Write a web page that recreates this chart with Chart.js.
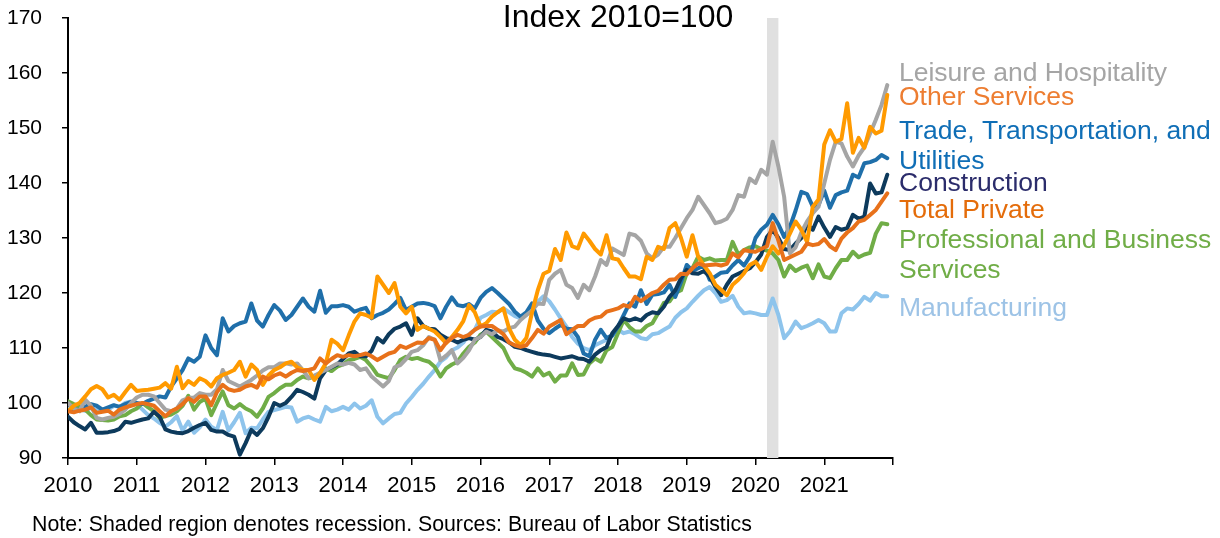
<!DOCTYPE html>
<html>
<head>
<meta charset="utf-8">
<script src="https://cdn.jsdelivr.net/npm/chart.js@4.4.0/dist/chart.umd.min.js"></script>
<style>
  html, body { margin: 0; padding: 0; background: #fff; }
  #wrap { position: relative; width: 1220px; height: 538px; }
  #note {
    position: absolute; left: 32px; top: 512px;
    font: 21.3px "Liberation Sans", Arial, sans-serif; color: #000; white-space: nowrap;
  }
</style>
</head>
<body>
<div id="wrap">
  <canvas id="chart" width="1220" height="538"></canvas>
  <div id="note">Note: Shaded region denotes recession. Sources: Bureau of Labor Statistics</div>
</div>
<script>
// monthly index values, Jan 2010 .. Dec 2021 (one row per year)
const yearLabels = ["2010", "2011", "2012", "2013", "2014", "2015", "2016", "2017", "2018", "2019", "2020", "2021"];
const months = Array.from({ length: 144 }, (_, i) => 2010 + i / 12);
const recession = [2020.167, 2020.333];

const leisure = [
  100.0, 99.0, 98.5, 100.6, 99.5, 97.3, 97.0, 97.3, 97.5, 98.0, 98.8, 100.0,
  101.0, 101.5, 101.5, 101.2, 100.0, 98.8, 98.5, 99.0, 100.5, 100.9, 101.0, 101.8,
  101.5, 101.5, 102.5, 106.0, 104.0, 103.5, 103.0, 103.6, 104.2, 105.0, 105.9, 106.5,
  106.5, 107.2, 107.2, 107.0, 107.2, 106.0, 104.5, 105.0, 105.5, 106.0, 106.6, 107.2,
  107.0, 107.3, 107.0, 106.0, 106.3, 104.8, 103.9, 103.0, 104.0, 106.5, 106.9, 108.0,
  109.3, 109.6, 110.5, 112.0, 111.5, 107.8, 108.6, 109.6, 107.2, 108.2, 109.6, 111.5,
  112.0, 113.0, 112.5, 113.2, 113.0, 113.6, 113.9, 115.1, 116.0, 116.8, 118.1, 118.0,
  122.4, 123.5, 124.2, 121.5, 120.9, 119.1, 121.5, 120.5, 123.0, 126.0, 125.1, 128.1,
  127.5, 126.9, 130.8, 130.5, 129.5, 127.2, 126.3, 127.0, 128.4, 128.4, 130.0, 131.8,
  133.6, 135.1, 137.5, 136.0, 134.5, 132.7, 133.0, 133.5, 135.1, 137.8, 137.5, 140.8,
  140.0, 142.4, 141.5, 147.5, 143.0, 137.5, 127.2, 128.3, 131.0, 133.0, 134.5, 135.7,
  139.9, 144.2, 147.5, 147.2, 144.8, 143.0, 145.0, 146.5, 149.0, 151.5, 154.2, 157.8
];

const otherServices = [
  98.5, 99.5, 100.0, 101.2, 102.5, 103.1, 102.5, 101.0, 101.5, 100.6, 102.0, 103.3,
  102.2, 102.3, 102.4, 102.6, 102.8, 103.6, 102.6, 106.6, 102.7, 104.0, 103.3, 104.5,
  104.0, 103.0, 104.5, 105.1, 105.5, 106.0, 107.5, 104.8, 107.0, 106.0, 103.3, 105.0,
  106.0, 106.5, 107.2, 107.5, 106.5, 106.0, 106.0, 104.2, 105.5, 107.2, 111.5, 110.8,
  109.6, 112.3, 114.8, 116.3, 116.0, 115.5, 123.0, 121.5, 120.0, 121.8, 117.5, 116.3,
  117.5, 113.3, 114.0, 113.5, 113.0, 112.0, 110.9, 112.0, 113.3, 114.9, 117.8, 116.5,
  113.9, 114.5, 115.7, 116.5, 117.2, 113.5, 111.5, 110.5, 111.8, 116.5, 120.5, 123.5,
  124.0, 128.0, 126.0, 131.0, 128.5, 128.1, 130.8, 129.5, 128.0, 127.0, 130.5, 126.3,
  126.1, 124.5, 123.0, 123.0, 122.5, 126.6, 126.0, 128.4, 128.0, 131.8, 132.7, 130.0,
  126.6, 130.5, 126.6, 125.0, 123.6, 121.5, 120.6, 119.6, 121.5, 122.4, 123.6, 125.1,
  125.7, 124.2, 126.6, 128.5, 127.2, 128.7, 130.8, 133.0, 131.5, 129.3, 135.7, 137.0,
  147.0, 149.6, 147.5, 148.0, 154.5, 145.5, 148.2, 146.4, 150.2, 149.0, 149.5, 156.0
];

const trade = [
  98.5, 99.0, 98.6, 99.3, 99.8, 99.5, 98.8, 99.2, 99.6, 99.3, 99.8, 100.2,
  100.0, 99.8, 100.4, 100.8, 101.2, 101.0, 103.0, 104.5, 106.0, 108.1, 107.5, 108.4,
  112.3, 110.0, 108.7, 115.4, 113.0, 114.0, 114.5, 114.8, 118.1, 115.0, 113.9, 116.0,
  117.8, 116.8, 115.1, 116.0, 117.5, 119.0, 117.5, 116.6, 120.4, 116.4, 117.6, 117.6,
  117.8, 117.5, 116.6, 117.0, 117.3, 115.4, 116.0, 116.4, 117.0, 118.0, 119.1, 116.9,
  117.5, 118.1, 118.2, 118.0, 117.6, 115.4, 117.5, 119.2, 117.8, 117.6, 118.0, 117.2,
  119.1, 120.2, 120.9, 120.0, 119.0, 118.0, 116.6, 115.7, 116.5, 118.1, 115.0, 113.5,
  112.7, 113.5, 114.2, 113.5, 113.4, 112.0, 109.0, 108.5, 111.5, 113.3, 111.8, 112.3,
  113.9, 116.0, 118.1, 117.5, 120.5, 118.0, 119.7, 119.8, 120.1, 121.5, 119.3, 122.0,
  125.1, 124.0, 124.5, 125.0, 122.4, 123.0, 123.7, 123.8, 125.0, 126.0, 125.0, 126.6,
  130.0, 131.5, 132.4, 134.2, 132.5, 130.2, 132.0, 135.0, 138.4, 138.0, 135.7, 136.0,
  138.6, 135.5, 137.8, 138.3, 138.6, 141.5, 141.0, 143.6, 143.8, 144.2, 145.1, 144.5
];

const construction = [
  97.5, 96.5, 95.8, 95.2, 96.4, 94.6, 94.6, 94.7, 94.9, 95.3, 96.6, 96.4,
  96.7, 97.0, 97.2, 98.4, 97.5, 95.2, 94.8, 94.6, 94.5, 94.9, 95.5, 96.0,
  96.4, 95.1, 94.8, 94.8, 94.2, 93.9, 90.6, 92.7, 95.1, 94.2, 95.4, 97.5,
  100.0, 99.5, 100.0, 101.1, 102.4, 102.0, 101.5, 100.8, 104.5, 106.0, 106.5, 107.0,
  108.0, 109.0, 109.3, 108.5, 108.5, 109.5, 111.8, 111.0, 112.5, 113.5, 113.9, 114.5,
  112.4, 115.4, 114.0, 113.5, 113.4, 112.4, 111.8, 111.5, 111.0, 111.5, 111.8, 111.5,
  112.0, 113.3, 113.0, 112.0, 111.6, 111.0, 110.2, 110.0, 109.6, 109.3, 109.0, 108.8,
  108.7, 108.4, 108.1, 108.3, 108.5, 108.1, 108.0, 107.5, 108.8, 109.6, 110.2, 112.7,
  114.0, 115.4, 115.0, 115.4, 115.0, 116.0, 116.5, 116.3, 117.5, 119.3, 120.5, 122.7,
  124.2, 123.6, 123.5, 124.0, 123.0, 121.1, 119.6, 121.5, 123.0, 123.5, 124.0, 124.5,
  125.6, 127.0, 130.2, 131.5, 130.0, 128.0, 127.8, 129.0, 130.0, 132.5, 131.5, 133.9,
  131.9, 130.2, 132.0, 131.5, 131.8, 134.2, 133.5, 133.9, 139.9, 138.1, 138.3, 141.5
];

const totalPrivate = [
  98.5, 98.3, 98.6, 98.8, 99.2, 98.2, 98.4, 98.6, 97.9, 98.8, 99.2, 99.5,
  99.8, 100.0, 99.8, 99.5, 98.5, 97.6, 98.5, 99.0, 99.8, 100.9, 100.2, 101.2,
  101.2, 99.6, 102.0, 103.3, 102.5, 102.2, 102.4, 103.0, 103.3, 102.8, 104.8, 104.3,
  105.0, 105.4, 104.8, 105.5, 106.0, 105.8, 106.0, 106.3, 108.1, 107.2, 108.0, 108.7,
  108.4, 108.7, 108.5, 108.7, 109.0, 108.5, 107.8, 108.4, 109.0, 109.3, 110.4, 110.0,
  110.5, 111.0, 110.9, 111.8, 111.5, 109.6, 111.0, 111.8, 112.4, 112.0, 112.4, 113.3,
  113.9, 114.0, 114.0, 113.3, 112.5, 111.0, 110.5, 110.2, 110.5, 111.8, 113.3, 112.6,
  113.9, 114.5, 115.1, 112.5, 113.3, 114.0, 114.0, 115.0, 115.5, 115.7, 116.6, 116.9,
  117.2, 117.8, 117.5, 119.3, 118.5, 119.3, 120.0, 120.4, 121.5, 122.4, 122.5, 123.5,
  123.4, 124.5, 125.4, 125.0, 125.1, 125.2, 125.0, 125.3, 127.2, 126.5, 127.8, 127.6,
  127.5, 128.0, 128.5, 132.7, 129.5, 126.0, 126.5, 127.0, 127.5, 129.0, 128.7, 128.9,
  129.8, 128.5, 127.8, 129.9, 131.0, 131.8, 133.0, 133.3, 134.2, 135.1, 136.6, 138.1
];

const professional = [
  100.3, 99.8, 99.4, 98.8, 97.8, 97.0, 96.9, 96.8, 97.0, 97.6, 97.8, 98.5,
  99.0, 100.0, 99.2, 98.5, 97.3, 97.6, 97.9, 98.5, 99.5, 101.3, 98.8, 100.2,
  100.8, 97.8, 100.0, 102.1, 99.6, 99.0, 99.8, 99.0, 98.5, 97.5, 99.0, 101.1,
  101.8, 102.7, 103.3, 103.3, 104.2, 104.8, 104.5, 104.8, 104.8, 106.3, 105.8, 106.6,
  107.0, 107.8, 108.0, 108.4, 107.8, 106.6, 105.1, 104.8, 104.5, 106.0, 107.8, 108.4,
  108.0, 108.2, 107.8, 107.5, 106.6, 104.8, 106.3, 107.0, 107.5, 109.0, 110.2, 111.0,
  112.4, 113.0, 112.0, 111.0, 110.0, 107.8, 106.3, 106.0, 105.5, 104.8, 106.3, 105.0,
  105.5, 103.9, 105.0, 105.0, 107.2, 105.1, 105.2, 107.2, 108.1, 107.5, 109.6, 110.2,
  112.7, 115.1, 113.8, 113.0, 113.0, 114.0, 114.5, 116.3, 118.2, 118.5, 120.0, 120.5,
  123.6, 124.5, 126.6, 126.0, 126.3, 125.9, 126.0, 126.0, 129.3, 127.0, 127.8, 128.3,
  128.5, 128.0, 127.7, 127.2, 126.0, 123.0, 125.0, 124.0, 124.6, 125.0, 122.7, 125.2,
  123.0, 122.7, 124.5, 126.0, 126.0, 127.5, 126.5, 127.0, 127.3, 130.8, 132.7, 132.5
];

const manufacturing = [
  99.0, 99.2, 98.8, 98.6, 99.1, 98.7, 98.8, 98.8, 99.5, 99.3, 100.0, 100.3,
  99.8, 98.8, 97.8, 97.2, 96.4, 95.7, 96.5, 97.6, 95.0, 96.6, 94.6, 95.6,
  97.0, 95.7, 95.1, 98.4, 95.0, 96.5, 98.2, 94.5, 95.5, 95.4, 97.0, 98.4,
  98.7, 99.0, 99.3, 99.2, 96.6, 97.2, 97.5, 97.0, 96.6, 99.3, 98.5, 98.8,
  99.3, 98.8, 99.9, 99.0, 99.5, 100.5, 97.5, 96.3, 97.2, 98.0, 98.2, 99.9,
  101.1, 102.4, 103.5, 104.8, 106.0, 107.5, 108.3, 109.6, 110.1, 111.0, 112.5, 113.3,
  115.5, 116.0, 116.6, 116.5, 117.2, 116.5, 115.8, 115.4, 116.0, 117.5, 118.4, 119.4,
  118.5, 117.0, 115.4, 113.9, 112.0, 110.8, 110.0, 109.6, 110.5, 111.0, 111.5, 112.2,
  113.3, 112.7, 113.0, 112.5, 111.8, 111.6, 112.5, 112.7, 113.3, 113.9, 115.5, 116.5,
  117.2, 118.4, 119.5, 120.5, 121.1, 120.0, 118.4, 118.7, 119.5, 117.5, 116.3, 116.5,
  116.3, 116.0, 116.0, 119.0, 116.0, 111.8, 113.0, 114.8, 113.6, 114.0, 114.5, 115.1,
  114.5, 113.0, 113.0, 116.3, 117.2, 117.0, 118.0, 119.3, 118.6, 120.0, 119.4, 119.4
];

const FONT = '"Liberation Sans", Arial, sans-serif';

// right-hand labels: [text lines, text colour, line colour, series]
const seriesDefs = [
  { name: "Total Private", lines: ["Total Private"], text: "#E46C0A", color: "#E8711A", data: totalPrivate },
  { name: "Other Services", lines: ["Other Services"], text: "#ED7D31", color: "#FF9A00", data: otherServices },
  { name: "Leisure and Hospitality", lines: ["Leisure and Hospitality"], text: "#A5A5A5", color: "#A5A5A5", data: leisure },
  { name: "Construction", lines: ["Construction"], text: "#2B2C6B", color: "#0D3A5C", data: construction },
  { name: "Trade, Transportation, and Utilities", lines: ["Trade, Transportation, and", "Utilities"], text: "#0F6EB6", color: "#1F6FAA", data: trade },
  { name: "Professional and Business Services", lines: ["Professional and Business", "Services"], text: "#70AD47", color: "#70AD47", data: professional },
  { name: "Manufacturing", lines: ["Manufacturing"], text: "#9DC3E6", color: "#8EC4EC", data: manufacturing }
];

// label placement (pixel y of first line centre)
const labelY = {
  "Leisure and Hospitality": 74,
  "Other Services": 98,
  "Trade, Transportation, and Utilities": 132,
  "Construction": 184,
  "Total Private": 211,
  "Professional and Business Services": 241,
  "Manufacturing": 309
};

const shading = {
  id: "shading",
  beforeDatasetsDraw(chart) {
    const { ctx, chartArea, scales } = chart;
    const x1 = scales.x.getPixelForValue(recession[0]);
    const x2 = scales.x.getPixelForValue(recession[1]);
    ctx.save();
    ctx.fillStyle = "#E0E0E0";
    ctx.fillRect(x1, chartArea.top, x2 - x1, chartArea.bottom - chartArea.top);
    ctx.restore();
  }
};

const labels = {
  id: "labels",
  afterDraw(chart) {
    const { ctx, chartArea } = chart;
    ctx.save();
    ctx.textBaseline = "middle";
    ctx.fillStyle = "#000";
    ctx.font = "32px " + FONT;
    ctx.textAlign = "center";
    ctx.fillText("Index 2010=100", 618, 18);
    ctx.textAlign = "left";
    ctx.font = "26.5px " + FONT;
    seriesDefs.forEach((s) => {
      ctx.fillStyle = s.text;
      s.lines.forEach((line, i) => {
        ctx.fillText(line, chartArea.right + 6, labelY[s.name] + i * 29.5);
      });
    });
    ctx.restore();
  }
};

new Chart(document.getElementById("chart"), {
  type: "line",
  data: {
    datasets: seriesDefs.map((s) => ({
      label: s.name,
      data: s.data.map((v, i) => ({ x: months[i], y: v })),
      borderColor: s.color,
      borderWidth: 4,
      pointRadius: 0,
      tension: 0,
      borderJoinStyle: "round",
      borderCapStyle: "round"
    }))
  },
  options: {
    responsive: false,
    animation: false,
    devicePixelRatio: 1,
    layout: { padding: { top: 18, right: 327, bottom: 35, left: 0 } },
    plugins: { legend: { display: false }, tooltip: { enabled: false } },
    scales: {
      x: {
        type: "linear",
        min: 2010,
        max: 2022,
        afterFit(scale) { scale.height = 45; },
        ticks: {
          stepSize: 1,
          autoSkip: false,
          maxRotation: 0,
          padding: 8,
          color: "#000",
          font: { family: FONT, size: 22 },
          callback: (v) => yearLabels[Math.round(v) - 2010] || ""
        },
        grid: { drawOnChartArea: false, tickLength: 7, color: "#000", lineWidth: 1.5 },
        border: { color: "#000", width: 2 }
      },
      y: {
        min: 90,
        max: 170,
        afterFit(scale) {
          scale.width = 68;
          scale.paddingTop = 0;
          scale.paddingBottom = 0;
        },
        ticks: {
          stepSize: 10,
          padding: 20,
          color: "#000",
          font: { family: FONT, size: 21 }
        },
        grid: { drawOnChartArea: false, tickLength: 6, color: "#000", lineWidth: 1.5 },
        border: { color: "#000", width: 2 }
      }
    }
  },
  plugins: [shading, labels]
});
</script>
</body>
</html>
